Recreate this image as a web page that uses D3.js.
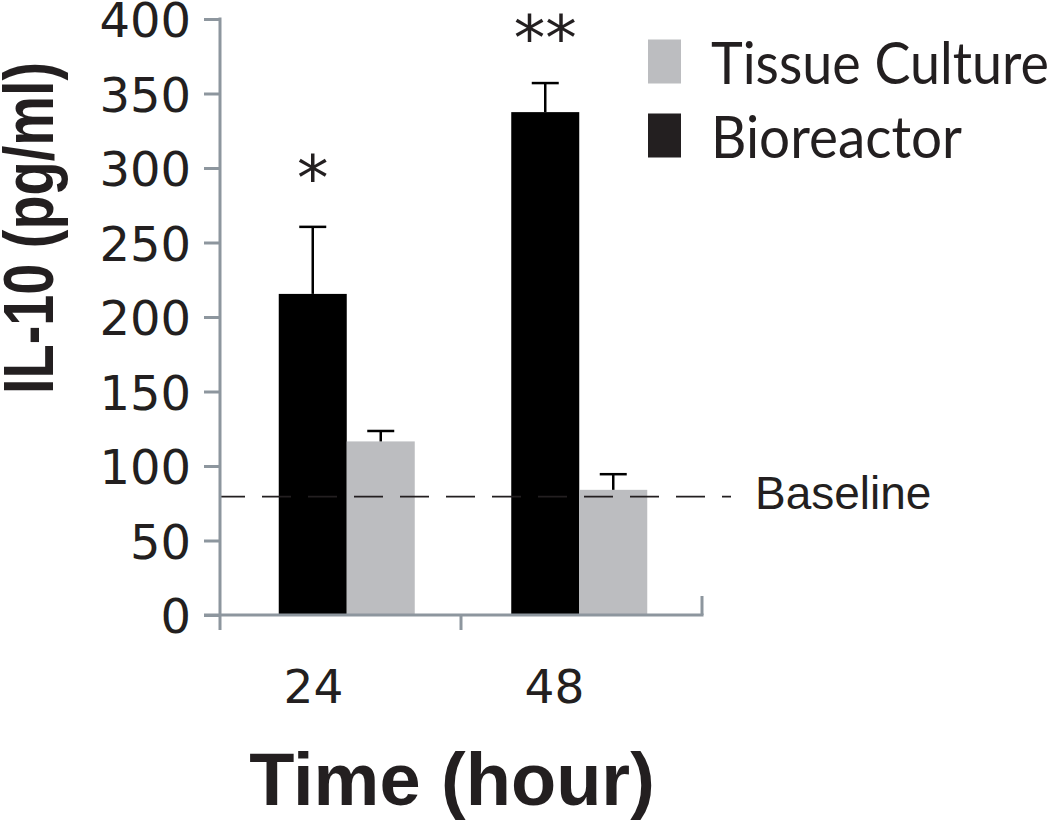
<html>
<head>
<script src="https://d3js.org/d3.v7.min.js"></script>
<style>
  body { margin: 0; background: #fff; }
</style>
</head>
<body>
<svg id="MAINSVG" width="1050" height="821"></svg>
<script>
  // data
  var times = ["24", "48"];
  var seriesNames = ["Bioreactor", "Tissue Culture"];
  var bioreactor = [215.5, 337.5];
  var bioreactorErr = [45, 19.5];
  var tissueCulture = [116.5, 84];
  var tissueCultureErr = [7, 10.5];
  var significance = ["*", "**"];
  var baselineValue = 79.5;
  var yTicks = [0, 50, 100, 150, 200, 250, 300, 350, 400];
  var legendNames = ["Tissue Culture", "Bioreactor"];

  var colors = { "Bioreactor": "#000000", "Tissue Culture": "#bcbdc0" };
  var axisColor = "#8d969e";
  var textColor = "#231f20";

  var SVG = d3.select("#MAINSVG");

  var y = d3.scaleLinear().domain([0, 400]).range([615, 19]);
  var xAxisBand = d3.scaleBand().domain(times).range([220, 702]);
  var xBar = d3.scaleBand().domain(times).range([230.5, 695.5]);
  var xInner = d3.scaleBand().domain(seriesNames)
      .range([xBar.bandwidth() / 2 - 68, xBar.bandwidth() / 2 + 68]);

  var rows = times.map(function(t, i) {
    return [
      { time: t, name: "Bioreactor", value: bioreactor[i], err: bioreactorErr[i] },
      { time: t, name: "Tissue Culture", value: tissueCulture[i], err: tissueCultureErr[i] }
    ];
  });
  var flat = [].concat.apply([], rows);

  // bars
  SVG.selectAll("rect.bar").data(flat).enter().append("rect")
     .attr("class", "bar")
     .attr("x", function(d) { return xBar(d.time) + xInner(d.name); })
     .attr("y", function(d) { return y(d.value); })
     .attr("width", xInner.bandwidth())
     .attr("height", function(d) { return y(0) - y(d.value); })
     .attr("fill", function(d) { return colors[d.name]; });

  // error bars
  var eb = SVG.selectAll("g.err").data(flat).enter().append("g").attr("class", "err");
  eb.append("line")
     .attr("x1", function(d) { return xBar(d.time) + xInner(d.name) + xInner.bandwidth() / 2; })
     .attr("x2", function(d) { return xBar(d.time) + xInner(d.name) + xInner.bandwidth() / 2; })
     .attr("y1", function(d) { return y(d.value); })
     .attr("y2", function(d) { return y(d.value + d.err); })
     .attr("stroke", "#000").attr("stroke-width", 2.5);
  eb.append("line")
     .attr("x1", function(d) { return xBar(d.time) + xInner(d.name) + xInner.bandwidth() / 2 - 13.5; })
     .attr("x2", function(d) { return xBar(d.time) + xInner(d.name) + xInner.bandwidth() / 2 + 13.5; })
     .attr("y1", function(d) { return y(d.value + d.err); })
     .attr("y2", function(d) { return y(d.value + d.err); })
     .attr("stroke", "#000").attr("stroke-width", 2.5);

  // baseline (dashed)
  SVG.append("line")
     .attr("x1", 220).attr("x2", 731)
     .attr("y1", y(baselineValue)).attr("y2", y(baselineValue))
     .attr("stroke", "#231f20").attr("stroke-width", 1.8)
     .attr("stroke-dasharray", "29,17")
     .attr("stroke-dashoffset", 4);
  SVG.append("text")
     .attr("x", 755).attr("y", y(baselineValue) + 12)
     .style("font-family", "'Liberation Sans', Arial, sans-serif")
     .style("font-size", "46px")
     .attr("fill", textColor)
     .text("Baseline");

  // significance stars
  SVG.selectAll("text.sig").data(times).enter().append("text")
     .attr("class", "sig")
     .attr("x", function(t) { return xBar(t) + xInner("Bioreactor") + xInner.bandwidth() / 2; })
     .attr("y", function(t, i) { return y(bioreactor[i] + bioreactorErr[i]) - 23 - (i === 0 ? 4 : 0); })
     .attr("text-anchor", "middle")
     .style("font-family", "'DejaVu Sans', sans-serif")
     .style("font-size", "63px")
     .attr("fill", textColor)
     .text(function(t, i) { return significance[i]; });

  // y axis
  var yAxisG = SVG.append("g").attr("transform", "translate(220,0)")
     .call(d3.axisLeft(y).tickValues(yTicks).tickSize(16).tickSizeOuter(0).tickPadding(14));
  yAxisG.select(".domain").remove();
  yAxisG.selectAll(".tick line").attr("stroke", axisColor).attr("stroke-width", 3);
  yAxisG.selectAll(".tick text")
     .attr("x", -29)
     .attr("dy", "0.37em")
     .attr("fill", textColor)
     .style("font-family", "'DejaVu Sans', sans-serif")
     .style("font-size", "48px");
  SVG.append("line")
     .attr("x1", 220).attr("x2", 220)
     .attr("y1", y(400) - 1.5).attr("y2", 630)
     .attr("stroke", axisColor).attr("stroke-width", 3);

  // x axis
  SVG.append("line")
     .attr("x1", 204).attr("x2", xAxisBand.range()[1] + 1.5)
     .attr("y1", y(0)).attr("y2", y(0))
     .attr("stroke", axisColor).attr("stroke-width", 3);
  SVG.selectAll("line.xtick").data(times.slice(1)).enter().append("line")
     .attr("class", "xtick")
     .attr("x1", function(t) { return xAxisBand(t); })
     .attr("x2", function(t) { return xAxisBand(t); })
     .attr("y1", y(0)).attr("y2", 630)
     .attr("stroke", axisColor).attr("stroke-width", 3);
  SVG.append("line")
     .attr("x1", xAxisBand.range()[1]).attr("x2", xAxisBand.range()[1])
     .attr("y1", y(0)).attr("y2", 596)
     .attr("stroke", axisColor).attr("stroke-width", 3);
  SVG.selectAll("text.xlab").data(times).enter().append("text")
     .attr("class", "xlab")
     .attr("x", function(t) { return xAxisBand(t) + xAxisBand.bandwidth() / 2 - 27; })
     .attr("y", 703)
     .attr("text-anchor", "middle")
     .attr("fill", textColor)
     .style("font-family", "'DejaVu Sans', sans-serif")
     .style("font-size", "47px")
     .text(function(t) { return t; });

  // axis titles
  SVG.append("text")
     .attr("x", 452).attr("y", 805)
     .attr("text-anchor", "middle")
     .attr("fill", textColor)
     .style("font-family", "'Liberation Sans', Arial, sans-serif")
     .style("font-weight", "bold")
     .style("font-size", "74px")
     .text("Time (hour)");
  SVG.append("text")
     .attr("transform", "translate(53,228) rotate(-90)")
     .attr("text-anchor", "middle")
     .attr("fill", textColor)
     .attr("textLength", 332)
     .attr("lengthAdjust", "spacingAndGlyphs")
     .style("font-family", "'Liberation Sans', Arial, sans-serif")
     .style("font-weight", "bold")
     .style("font-size", "70px")
     .text("IL-10 (pg/ml)");

  // legend
  var legend = SVG.selectAll("g.legend").data(legendNames).enter().append("g")
     .attr("class", "legend")
     .attr("transform", function(d, i) { return "translate(648," + (39.5 + i * 74) + ")"; });
  legend.append("rect")
     .attr("width", 33).attr("height", 44)
     .attr("fill", function(d) { return d === "Bioreactor" ? "#231f20" : colors[d]; });
  legend.append("text")
     .attr("x", 63).attr("y", 44)
     .attr("fill", textColor)
     .attr("textLength", function(d) { return d === "Bioreactor" ? 251 : 338; })
     .attr("lengthAdjust", "spacingAndGlyphs")
     .style("font-family", "Lato, 'Open Sans', sans-serif")
     .style("font-size", "58px")
     .text(function(d) { return d; });
</script>
</body>
</html>
